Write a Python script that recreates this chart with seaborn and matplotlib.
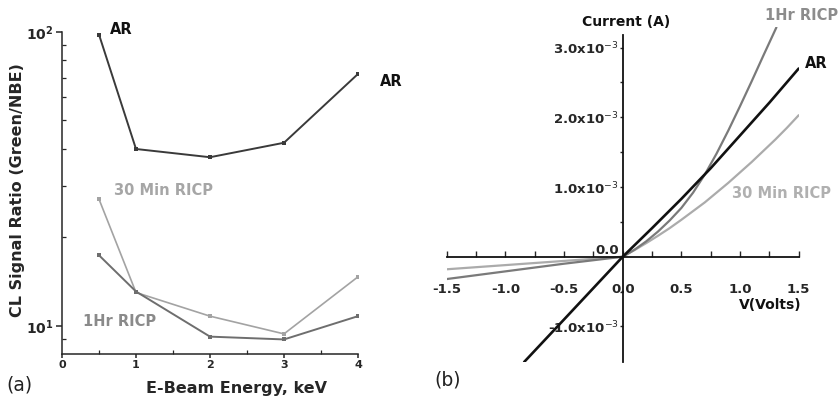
import matplotlib
matplotlib.use("Agg")
import matplotlib.pyplot as plt
import seaborn as sns
import numpy as np
import pandas as pd
from matplotlib.ticker import FixedLocator, NullFormatter

# ---------------- data: panel (a) ----------------
energy_kev = [0.5, 1, 2, 3, 4]
ratio_ar = [98, 40, 37.5, 42, 72]
ratio_30min = [27, 13.0, 10.8, 9.4, 14.7]
ratio_1hr = [17.4, 13.1, 9.2, 9.0, 10.8]

# ---------------- data: panel (b) ----------------
volts_ar = [-0.84, -0.5, 0.0, 0.25, 0.5, 0.75, 1.0, 1.25, 1.5]
current_ar = [-1.51e-3, -0.90e-3, 0.0, 0.41e-3, 0.83e-3, 1.27e-3, 1.74e-3, 2.21e-3, 2.70e-3]
volts_1hr = [-1.5, -1.0, -0.5, 0.0, 0.1, 0.2, 0.3, 0.4, 0.5, 0.6, 0.7, 0.8, 0.9, 1.0, 1.1, 1.2, 1.31]
current_1hr = [-0.32e-3, -0.21e-3, -0.10e-3, 0.0, 0.10e-3, 0.22e-3, 0.36e-3, 0.52e-3, 0.70e-3,
               0.92e-3, 1.18e-3, 1.48e-3, 1.81e-3, 2.16e-3, 2.52e-3, 2.89e-3, 3.29e-3]
volts_30min = [-1.5, -1.0, -0.5, 0.0, 0.1, 0.2, 0.3, 0.4, 0.5, 0.6, 0.7, 0.8, 0.9, 1.0, 1.1, 1.2, 1.3, 1.4, 1.5]
current_30min = [-0.18e-3, -0.12e-3, -0.06e-3, 0.0, 0.095e-3, 0.195e-3, 0.30e-3, 0.41e-3, 0.53e-3,
                 0.655e-3, 0.78e-3, 0.92e-3, 1.06e-3, 1.21e-3, 1.36e-3, 1.52e-3, 1.68e-3, 1.85e-3, 2.03e-3]

a_yticks = [10, 100]
a_yticklabels = [r"$\mathbf{10^{1}}$", r"$\mathbf{10^{2}}$"]
a_xticks = [0, 1, 2, 3, 4]
b_xticks = [-1.5, -1.0, -0.5, 0.0, 0.5, 1.0, 1.5]
b_xticklabels = ["-1.5", "-1.0", "-0.5", "0.0", "0.5", "1.0", "1.5"]
b_yticks = [-1e-3, 0.0, 1e-3, 2e-3, 3e-3]
b_yticklabels = ["-1.0x10$^{-3}$", "0.0", "1.0x10$^{-3}$", "2.0x10$^{-3}$", "3.0x10$^{-3}$"]

sns.set_style("ticks")
plt.rcParams["font.family"] = ["DejaVu Sans"]
plt.rcParams["axes.linewidth"] = 1.1

W, H = 840, 396
fig = plt.figure(figsize=(8.4, 3.96), dpi=100)

def fx(px):
    return px / W

def fy(py):
    return 1 - py / H

# ================= panel (a) =================
ax1 = fig.add_axes([fx(62), fy(354), fx(358) - fx(62), fy(32) - fy(354)])
df_a = pd.DataFrame({"E": energy_kev * 3,
                     "R": ratio_ar + ratio_30min + ratio_1hr,
                     "S": ["AR"] * 5 + ["30 Min RICP"] * 5 + ["1Hr RICP"] * 5})
pal_a = {"AR": "#3a3a3a", "30 Min RICP": "#a3a3a3", "1Hr RICP": "#6e6e6e"}
lw_a = {"AR": 1.4, "30 Min RICP": 1.2, "1Hr RICP": 1.4}
for name in ["30 Min RICP", "1Hr RICP", "AR"]:
    sub = df_a[df_a["S"] == name]
    sns.lineplot(data=sub, x="E", y="R", ax=ax1, color=pal_a[name], lw=lw_a[name],
                 marker="s", markersize=2.5, markeredgewidth=0, estimator=None,
                 sort=False, legend=False)
ax1.set_yscale("log")
ax1.set_xlim(0, 4)
ax1.set_ylim(8.03, 100)
sns.despine(ax=ax1)
ax1.yaxis.set_major_locator(FixedLocator(a_yticks))
ax1.set_yticklabels(a_yticklabels)
ax1.yaxis.set_minor_locator(FixedLocator([9] + list(range(20, 100, 10))))
ax1.yaxis.set_minor_formatter(NullFormatter())
ax1.set_xticks(a_xticks)
ax1.set_xticklabels([str(v) for v in a_xticks], fontweight="bold")
ax1.xaxis.set_minor_locator(FixedLocator([0.5, 1.5, 2.5, 3.5]))
ax1.tick_params(axis="y", which="major", direction="out", length=4, width=1.1, pad=2, labelsize=10)
ax1.tick_params(axis="y", which="minor", direction="in", length=3, width=0.9)
ax1.tick_params(axis="x", which="major", direction="out", length=3, width=1.1, pad=1, labelsize=8)
ax1.tick_params(axis="x", which="minor", direction="in", length=3, width=0.9)
ax1.set_xlabel("E-Beam Energy, keV", fontsize=11.5, fontweight="bold")
ax1.set_ylabel("CL Signal Ratio (Green/NBE)", fontsize=11.5, fontweight="bold")
ax1.xaxis.set_label_coords(fx(237), fy(388), transform=fig.transFigure)
ax1.yaxis.set_label_coords(fx(18), fy(190), transform=fig.transFigure)
for t in ax1.xaxis.get_label(), ax1.yaxis.get_label():
    t.set_va("center")

fig.text(fx(121), fy(29), "AR", fontsize=10.5, fontweight="bold", color="#111111", ha="center", va="center")
fig.text(fx(391), fy(81), "AR", fontsize=10.5, fontweight="bold", color="#111111", ha="center", va="center")
fig.text(fx(164), fy(191), "30 Min RICP", fontsize=10.5, fontweight="bold", color="#a6a6a6", ha="center", va="center")
fig.text(fx(120), fy(321), "1Hr RICP", fontsize=10.5, fontweight="bold", color="#8a8a8a", ha="center", va="center")
fig.text(fx(19), fy(385), "(a)", fontsize=13.5, color="#222222", ha="center", va="center")

# ================= panel (b) =================
ax2 = fig.add_axes([fx(446.7), fy(362), fx(798.7) - fx(446.7), fy(26.7) - fy(362)])
sns.lineplot(x=volts_30min, y=current_30min, ax=ax2, color="#ababab", lw=1.6, estimator=None, sort=False)
sns.lineplot(x=volts_1hr, y=current_1hr, ax=ax2, color="#7a7a7a", lw=1.6, estimator=None, sort=False)
sns.lineplot(x=volts_ar, y=current_ar, ax=ax2, color="#111111", lw=1.9, estimator=None, sort=False)
ax2.set_xlim(-1.5, 1.5)
ax2.set_ylim(-1.51e-3, 3.3e-3)
ax2.spines["top"].set_visible(False)
ax2.spines["right"].set_visible(False)
ax2.spines["left"].set_position(("data", 0))
ax2.spines["bottom"].set_position(("data", 0))
ax2.spines["left"].set_bounds(-1.51e-3, 3.18e-3)
ax2.spines["bottom"].set_bounds(-1.5, 1.5)
for s in ("left", "bottom"):
    ax2.spines[s].set_linewidth(1.3)
    ax2.spines[s].set_color("#111111")
ax2.set_xticks(b_xticks)
ax2.set_xticklabels(b_xticklabels, fontweight="bold")
ax2.xaxis.set_minor_locator(FixedLocator([-1.25, -0.75, -0.25, 0.25, 0.75, 1.25]))
ax2.set_yticks(b_yticks)
ax2.set_yticklabels(b_yticklabels, fontweight="bold")
ax2.yaxis.set_minor_locator(FixedLocator([-0.5e-3, 0.5e-3, 1.5e-3, 2.5e-3]))
ax2.tick_params(axis="x", which="both", direction="in", length=4, width=1.0, pad=19, labelsize=9.5)
ax2.tick_params(axis="y", which="both", direction="out", length=2, width=1.0, pad=1, labelsize=9.5)
for lab in ax2.get_yticklabels():
    if lab.get_text() == "0.0":
        lab.set_va("bottom")
ax2.set_xlabel("")
ax2.set_ylabel("")

fig.text(fx(770), fy(305), "V(Volts)", fontsize=10, fontweight="bold", color="#111111", ha="center", va="center")
fig.text(fx(626), fy(22), "Current (A)", fontsize=10, fontweight="bold", color="#111111", ha="center", va="center")
fig.text(fx(802), fy(16), "1Hr RICP", fontsize=10.5, fontweight="bold", color="#8c8c8c", ha="center", va="center")
fig.text(fx(816), fy(63), "AR", fontsize=10.5, fontweight="bold", color="#111111", ha="center", va="center")
fig.text(fx(781), fy(193), "30 Min RICP", fontsize=10.5, fontweight="bold", color="#b0b0b0", ha="center", va="center")
fig.text(fx(448), fy(380), "(b)", fontsize=13.5, color="#222222", ha="center", va="center")

fig.savefig("out.png", dpi=100, facecolor="white")
